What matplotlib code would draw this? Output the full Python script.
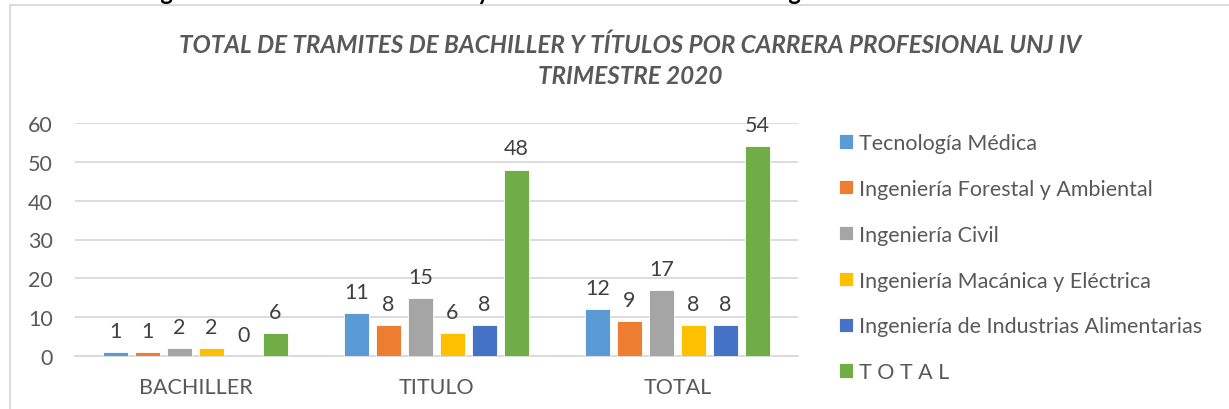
import numpy as np
import matplotlib.pyplot as plt
from matplotlib.patches import Rectangle

# datos
categorias = ['BACHILLER', 'TITULO', 'TOTAL']
carreras = ['Tecnología Médica', 'Ingeniería Forestal y Ambiental', 'Ingeniería Civil',
            'Ingeniería Macánica y Eléctrica', 'Ingeniería de Industrias Alimentarias',
            'T O T A L']
tec_medica = [1, 11, 12]
ing_forestal = [1, 8, 9]
ing_civil = [2, 15, 17]
ing_mecanica = [2, 6, 8]
ing_industrias = [0, 8, 8]
total = [6, 48, 54]
series = [tec_medica, ing_forestal, ing_civil, ing_mecanica, ing_industrias, total]
colores = ['#5B9BD5', '#ED7D31', '#A5A5A5', '#FFC000', '#4472C4', '#70AD47']

plt.rcParams['font.family'] = ['Lato', 'DejaVu Sans']

fig = plt.figure(figsize=(12.29, 4.10), dpi=100)

# caption del documento (cortado arriba)
fig.text(0.5, 1.0 - 4 / 410, 'Figura 16. Trámites de bachiller y títulos IV Trimestre 2020 según Carrera Profesional UNJ',
         ha='center', va='bottom', fontsize=17, fontweight='bold', color='black')

# borde del area del grafico
borde = Rectangle((10 / 1229, -0.05), 1.0, 1 - 5.5 / 410 + 0.05, transform=fig.transFigure,
                  fill=False, edgecolor='#D9D9D9', linewidth=1.3)
fig.patches.append(borde)
fig.patches.append(Rectangle((10.5 / 1229, 0), 1.0, 1 - 6.5 / 410, transform=fig.transFigure,
                             facecolor='white', edgecolor='none', zorder=-1))

fig.text(630 / 1229, 1 - 45 / 410, 'TOTAL DE TRAMITES DE BACHILLER Y TÍTULOS POR CARRERA PROFESIONAL UNJ IV',
         ha='center', va='center', fontsize=17.5, fontweight='bold', style='italic', color='#595959')
fig.text(630 / 1229, 1 - 77 / 410, 'TRIMESTRE 2020',
         ha='center', va='center', fontsize=17.5, fontweight='bold', style='italic', color='#595959')

ax = fig.add_axes([75 / 1229, 1 - 357 / 410, (798 - 75) / 1229, (357 - 124) / 410])

x = np.arange(len(categorias))
paso = 0.1325
ancho = 0.104
for i, (vals, col, nom) in enumerate(zip(series, colores, carreras)):
    pos = x + (i - 2.5) * paso
    barras = ax.bar(pos, vals, ancho, color=col, label=nom, edgecolor='white', linewidth=0.6, zorder=3)
    for b, v in zip(barras, vals):
        ax.annotate(str(v), (b.get_x() + b.get_width() / 2, v), xytext=(0, 8),
                    textcoords='offset points', ha='center', va='bottom',
                    fontsize=15.5, color='#404040')

ax.set_xlim(-0.5, 2.5)
ax.set_ylim(0, 60)
ax.set_yticks(range(0, 61, 10))
ax.set_xticks(x)
ax.set_xticklabels(categorias)
ax.yaxis.grid(True, color='#D9D9D9', linewidth=1.3, zorder=0)
for s in ['top', 'right', 'left']:
    ax.spines[s].set_visible(False)
ax.spines['bottom'].set_color('#D9D9D9')
ax.spines['bottom'].set_linewidth(1.3)
ax.tick_params(axis='both', length=0, labelsize=15.5, colors='#595959')
ax.tick_params(axis='x', pad=15)
ax.tick_params(axis='y', pad=16)

leg = fig.legend(loc='upper left', bbox_to_anchor=(839 / 1229, 1 - 134 / 410), frameon=False,
                 fontsize=15.5, labelcolor='#595959', handlelength=0.65, handleheight=0.65,
                 handletextpad=0.3, labelspacing=1.2, borderpad=0, borderaxespad=0)

fig.savefig('out.png', dpi=100)
